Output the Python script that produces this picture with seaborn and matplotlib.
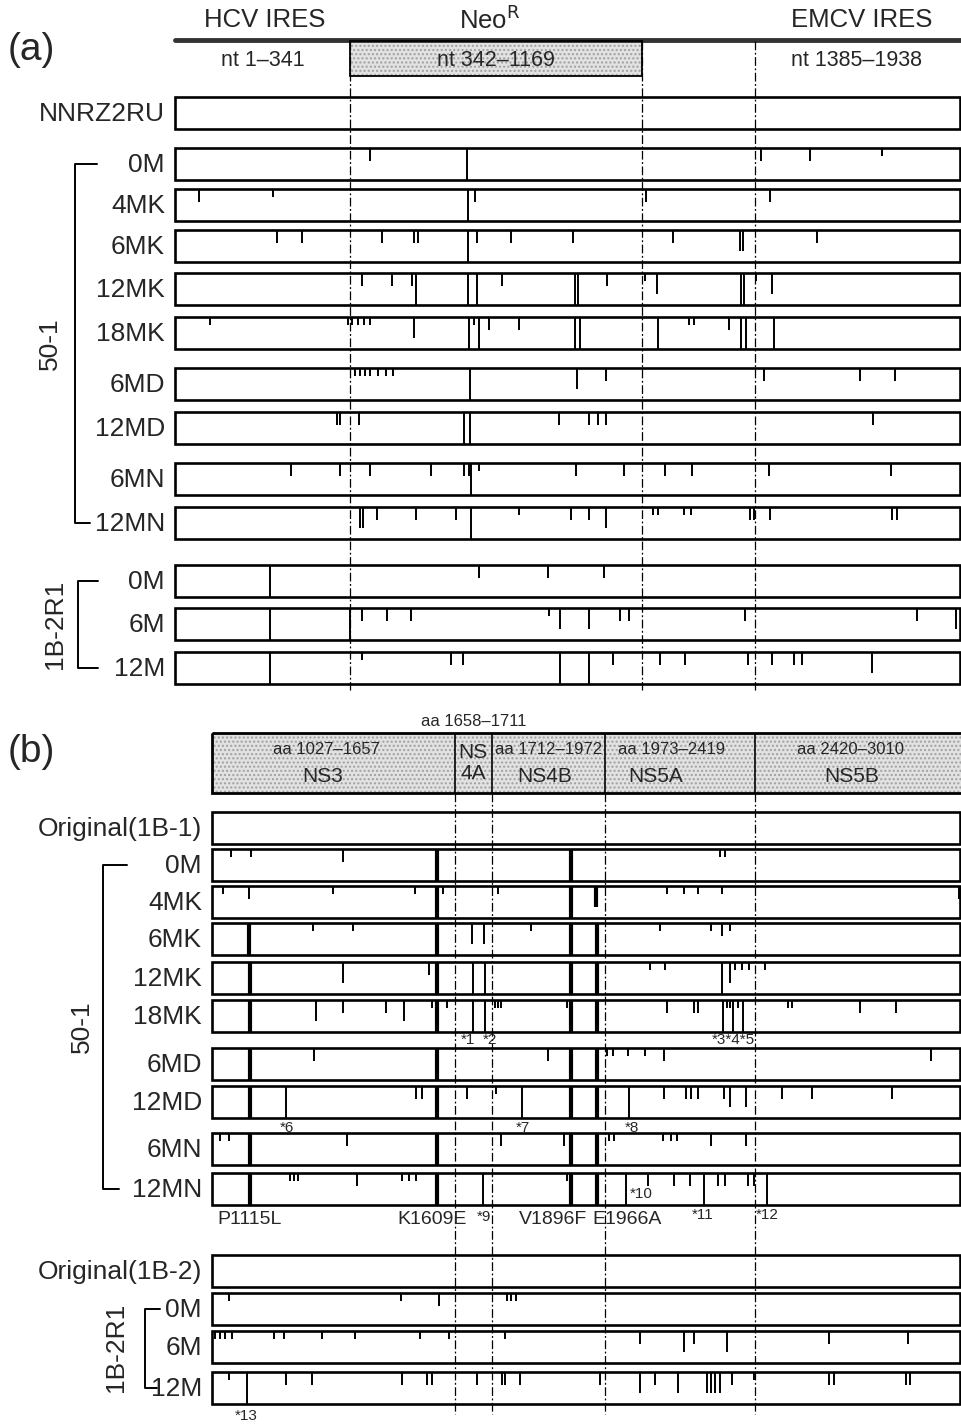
import matplotlib.pyplot as plt
import pandas as pd
import seaborn as sns
from matplotlib.patches import Rectangle


# mutation sites are (map position, tick class); the map is schematic, not to scale
# tick classes: s short, m medium, l long, f full line, F thick full line, L thick long

# ---- panel (a): replicon RNA, nt ----
A_REGIONS = ["HCV IRES", "Neo$^{\\mathrm{R}}$", "EMCV IRES"]
A_RANGES = ["nt 1\u2013341", "nt 342\u20131169", "nt 1385\u20131938"]
A_ROWS = ["NNRZ2RU", "0M", "4MK", "6MK", "12MK", "18MK", "6MD", "12MD",
          "6MN", "12MN", "0M", "6M", "12M"]

A_NNRZ2RU = []
A_50_0M = [(370, "m"), (467, "f"), (761, "m"), (810, "m"), (882, "s")]
A_50_4MK = [(199, "m"), (273, "s"), (468, "f"), (475, "m"), (646, "m"), (770, "m")]
A_50_6MK = [(277, "m"), (302, "m"), (382, "m"), (414, "m"), (418, "m"), (468, "f"),
            (477, "m"), (511, "m"), (573, "m"), (673, "m"), (740, "l"), (743, "l"),
            (817, "m")]
A_50_12MK = [(362, "m"), (392, "m"), (412, "m"), (416, "f"), (468, "f"), (477, "f"),
             (502, "m"), (575, "f"), (578, "f"), (607, "m"), (645, "s"), (657, "l"),
             (741, "f"), (744, "f"), (756, "s"), (772, "l")]
A_50_18MK = [(210, "s"), (348, "s"), (352, "s"), (358, "s"), (364, "s"), (370, "s"),
             (414, "l"), (469, "f"), (474, "s"), (479, "f"), (489, "m"), (519, "m"),
             (575, "f"), (580, "f"), (658, "f"), (689, "s"), (694, "s"), (729, "m"),
             (741, "f"), (746, "f"), (774, "f")]
A_50_6MD = [(355, "s"), (360, "s"), (365, "s"), (370, "s"), (378, "s"), (386, "s"),
            (393, "s"), (470, "f"), (577, "l"), (606, "m"), (764, "m"), (860, "m"),
            (895, "m")]
A_50_12MD = [(337, "m"), (340, "m"), (359, "m"), (464, "f"), (470, "f"), (559, "m"),
             (589, "m"), (598, "m"), (606, "m"), (873, "m")]
A_50_6MN = [(291, "m"), (340, "m"), (370, "m"), (431, "m"), (464, "m"), (469, "m"),
            (471, "f"), (479, "s"), (576, "m"), (624, "m"), (665, "m"), (692, "m"),
            (769, "m"), (891, "m")]
A_50_12MN = [(360, "l"), (363, "l"), (377, "m"), (416, "m"), (456, "m"), (471, "f"),
             (519, "s"), (571, "m"), (589, "m"), (606, "l"), (653, "s"), (658, "s"),
             (684, "s"), (691, "s"), (750, "m"), (754, "m"), (770, "m"), (892, "m"),
             (897, "m")]
A_R1_0M = [(270, "f"), (479, "m"), (548, "m"), (604, "m")]
A_R1_6M = [(270, "f"), (350, "f"), (362, "m"), (387, "m"), (411, "m"), (549, "s"),
           (560, "l"), (589, "l"), (620, "m"), (629, "m"), (745, "m"), (917, "m"),
           (956, "l")]
A_R1_12M = [(270, "f"), (362, "s"), (451, "m"), (463, "m"), (560, "f"), (589, "f"),
            (613, "m"), (660, "m"), (685, "m"), (748, "m"), (772, "m"), (794, "m"),
            (802, "m"), (872, "l")]

# ---- panel (b): NS3-NS5B, aa ----
B_PROTEINS = ["NS3", "NS\n4A", "NS4B", "NS5A", "NS5B"]
B_RANGES = ["aa 1027\u20131657", "", "aa 1712\u20131972", "aa 1973\u20132419", "aa 2420\u20133010"]
B_NS4A_RANGE = "aa 1658\u20131711"
B_ROWS = ["Original(1B-1)", "0M", "4MK", "6MK", "12MK", "18MK", "6MD", "12MD",
          "6MN", "12MN", "Original(1B-2)", "0M", "6M", "12M"]

B_1B1 = []
B_50_0M = [(231, "s"), (251, "s"), (343, "m"), (437, "F"), (571, "F"), (720, "s"),
           (725, "s")]
B_50_4MK = [(223, "s"), (249, "m"), (333, "s"), (415, "s"), (437, "F"), (443, "s"),
            (498, "s"), (571, "F"), (596, "L"), (667, "s"), (684, "s"), (698, "s"),
            (722, "s"), (959, "m")]
B_50_6MK = [(249, "F"), (313, "s"), (353, "s"), (437, "F"), (472, "l"), (484, "l"),
            (531, "s"), (571, "F"), (597, "F"), (660, "s"), (711, "s"), (722, "m"),
            (730, "s")]
B_50_12MK = [(250, "F"), (343, "l"), (429, "m"), (437, "F"), (473, "f"), (485, "f"),
             (571, "F"), (597, "F"), (650, "s"), (665, "s"), (722, "f"), (730, "l"),
             (735, "s"), (742, "s"), (749, "s"), (765, "s")]
B_50_18MK = [(250, "F"), (316, "l"), (343, "m"), (386, "m"), (404, "l"), (432, "s"),
             (437, "F"), (447, "s"), (473, "f"), (485, "f"), (495, "s"), (498, "s"),
             (501, "s"), (567, "s"), (571, "F"), (597, "F"), (667, "m"), (694, "m"),
             (698, "m"), (723, "f"), (727, "s"), (730, "s"), (733, "f"), (738, "s"),
             (743, "f"), (788, "s"), (792, "s"), (860, "m"), (896, "m")]
B_50_6MD = [(250, "F"), (314, "m"), (437, "F"), (548, "m"), (571, "F"), (597, "F"),
            (607, "s"), (613, "s"), (628, "s"), (645, "s"), (664, "m"), (931, "m")]
B_50_12MD = [(250, "F"), (286, "f"), (416, "m"), (422, "m"), (437, "F"), (467, "m"),
             (496, "s"), (522, "f"), (571, "F"), (597, "F"), (629, "f"), (664, "m"),
             (686, "m"), (691, "m"), (698, "m"), (724, "m"), (730, "l"), (746, "l"),
             (782, "m"), (812, "m"), (892, "m")]
B_50_6MN = [(220, "s"), (229, "s"), (250, "F"), (347, "m"), (437, "F"), (501, "m"),
            (564, "m"), (571, "F"), (597, "F"), (609, "s"), (614, "s"), (663, "s"),
            (671, "s"), (677, "s"), (711, "m"), (746, "m")]
B_50_12MN = [(250, "F"), (290, "s"), (294, "s"), (298, "s"), (357, "m"), (402, "s"),
             (409, "s"), (416, "s"), (437, "F"), (483, "f"), (567, "s"), (571, "F"),
             (597, "F"), (626, "f"), (648, "m"), (674, "m"), (690, "m"), (704, "f"),
             (718, "m"), (725, "m"), (748, "m"), (754, "m"), (767, "f")]
B_1B2 = []
B_R1_0M = [(229, "s"), (401, "s"), (439, "m"), (507, "s"), (511, "s"), (516, "s")]
B_R1_6M = [(215, "s"), (220, "s"), (225, "s"), (232, "s"), (274, "s"), (284, "s"),
           (322, "s"), (355, "s"), (420, "s"), (449, "s"), (505, "s"), (640, "m"),
           (684, "l"), (694, "m"), (727, "l"), (829, "m"), (908, "m")]
B_R1_12M = [(229, "s"), (247, "f"), (286, "m"), (312, "m"), (402, "m"), (427, "m"),
            (432, "m"), (477, "m"), (502, "m"), (505, "m"), (520, "m"), (600, "m"),
            (640, "l"), (655, "m"), (678, "l"), (707, "l"), (711, "l"), (715, "l"),
            (720, "l"), (732, "m"), (754, "s"), (829, "m"), (834, "m"), (906, "m"),
            (910, "m")]

# named substitutions under 50-1 12MN, and footnote marks
B_SUBST = ["P1115L", "K1609E", "V1896F", "E1966A"]
B_SUBST_POS = [250, 432, 553, 627]

# ---- layout (reference pixel grid) ----
W, H = 962, 1424
A_X0, A_X1 = 175, 960
A_DIV = [350, 642, 755]
A_TOPS = [97, 148, 189, 230, 273, 317, 368, 412, 463, 507, 565, 608, 652]
B_X0, B_X1 = 212, 960
B_DIV = [455, 492, 605, 755]
B_TOPS = [812, 849, 886, 923, 962, 1000, 1048, 1086, 1133, 1173, 1255, 1293, 1331, 1372]
B_RANGE_X = [326, 473, 549, 672, 851]
B_PROT_X = [323, 473, 545, 656, 852]
ROW_H = 32

FRAC = {"s": 0.25, "m": 0.42, "l": 0.65, "L": 0.65, "f": 1.0, "F": 1.0}
DASH = (0, (7, 2, 1.5, 2))


def to_frame(rows, tops, site_lists):
    recs = []
    for name, top, sites in zip(rows, tops, site_lists):
        for pos, kind in sites:
            recs.append({"row": name, "top": top, "pos": pos, "kind": kind})
    return pd.DataFrame(recs)


def draw_rows(ax, df, tops, x0, x1, thin_lw, thick_lw):
    for top in tops:
        ax.add_patch(Rectangle((x0, top), x1 - x0, ROW_H, fill=False, lw=1.9,
                               ec="black", zorder=3))
    for kind, grp in df.groupby("kind"):
        lw = thick_lw if kind.isupper() else thin_lw
        ax.vlines(grp["pos"], grp["top"], grp["top"] + FRAC[kind] * ROW_H,
                  color="black", lw=lw, zorder=4)


def bracket(ax, x, y0, y1, top_len, bot_len):
    ax.plot([x + top_len, x, x, x + bot_len], [y0, y0, y1, y1], color="black", lw=1.4)


sns.set_theme(style="white")
plt.rcParams["font.family"] = ["Liberation Sans", "DejaVu Sans"]

fig = plt.figure(figsize=(W / 100, H / 100), dpi=100)
ax = fig.add_axes([0, 0, 1, 1])
ax.set_xlim(0, W)
ax.set_ylim(H, 0)
sns.despine(ax=ax, left=True, bottom=True)
ax.set_xticks([])
ax.set_yticks([])

# ---------------- panel (a) ----------------
ax.text(8, 50, "(a)", fontsize=28, va="center", ha="left")
for cx, name in zip([265, 490, 862], A_REGIONS):
    ax.text(cx, 20, name, fontsize=18.5, ha="center", va="center")
ax.plot([A_X0, W], [40, 40], color="#333333", lw=3.5)
ax.add_patch(Rectangle((A_DIV[0], 41), A_DIV[1] - A_DIV[0], 35, fc="#e2e2e2",
                       ec="#a0a0a0", hatch="....", lw=0, zorder=1))
ax.add_patch(Rectangle((A_DIV[0], 41), A_DIV[1] - A_DIV[0], 35, fill=False,
                       ec="black", lw=1.3, zorder=2))
for cx, rng in zip([263, 496, 857], A_RANGES):
    ax.text(cx, 61, rng, fontsize=15.5, ha="center", va="center")
ax.vlines(A_DIV, 41, 690, colors="black", lw=0.9, linestyles=[DASH], zorder=2)

a_sites = [A_NNRZ2RU, A_50_0M, A_50_4MK, A_50_6MK, A_50_12MK, A_50_18MK, A_50_6MD,
           A_50_12MD, A_50_6MN, A_50_12MN, A_R1_0M, A_R1_6M, A_R1_12M]
df_a = to_frame(A_ROWS, A_TOPS, a_sites)
draw_rows(ax, df_a, A_TOPS, A_X0, A_X1, 1.4, 1.4)
for name, top in zip(A_ROWS, A_TOPS):
    ax.text(A_X0 - 10, top + ROW_H / 2 + 1, name, fontsize=19, ha="right", va="center")

a_mid = [t + ROW_H / 2 for t in A_TOPS]
bracket(ax, 75, a_mid[1], a_mid[9], 22, 15)
ax.text(50, (a_mid[1] + a_mid[9]) / 2, "50-1", fontsize=19, rotation=90,
        ha="center", va="center")
bracket(ax, 78, a_mid[10], a_mid[12], 20, 20)
ax.text(55, a_mid[11], "1B-2R1", fontsize=19, rotation=90, ha="center", va="center")

# ---------------- panel (b) ----------------
ax.text(8, 752, "(b)", fontsize=28, va="center", ha="left")
ax.text((B_DIV[0] + B_DIV[1]) / 2, 722, B_NS4A_RANGE, fontsize=12, ha="center",
        va="center")
ax.add_patch(Rectangle((B_X0, 733), W - B_X0, 60, fc="#e2e2e2", ec="#a0a0a0",
                       hatch="....", lw=0, zorder=1))
ax.add_patch(Rectangle((B_X0, 733), W - B_X0 + 5, 60, fill=False, ec="black",
                       lw=2, zorder=2))
ax.vlines(B_DIV, 733, 793, colors="black", lw=1.2, zorder=2)
for i, (prot, rng) in enumerate(zip(B_PROTEINS, B_RANGES)):
    if "\n" in prot:
        ax.text(B_PROT_X[i], 763, prot, fontsize=15, ha="center", va="center",
                linespacing=1.1)
        continue
    ax.text(B_RANGE_X[i], 750, rng, fontsize=12, ha="center", va="center")
    ax.text(B_PROT_X[i], 777, prot, fontsize=15, ha="center", va="center")
ax.vlines(B_DIV, 793, 1414, colors="black", lw=0.9, linestyles=[DASH], zorder=2)

b_sites = [B_1B1, B_50_0M, B_50_4MK, B_50_6MK, B_50_12MK, B_50_18MK, B_50_6MD,
           B_50_12MD, B_50_6MN, B_50_12MN, B_1B2, B_R1_0M, B_R1_6M, B_R1_12M]
df_b = to_frame(B_ROWS, B_TOPS, b_sites)
draw_rows(ax, df_b, B_TOPS, B_X0, B_X1, 1.4, 3.0)
for name, top in zip(B_ROWS, B_TOPS):
    ax.text(B_X0 - 10, top + ROW_H / 2 + 1, name, fontsize=19, ha="right", va="center")

b_mid = [t + ROW_H / 2 for t in B_TOPS]
bracket(ax, 103, b_mid[1], b_mid[9], 24, 16)
ax.text(82, (b_mid[1] + b_mid[9]) / 2, "50-1", fontsize=19, rotation=90,
        ha="center", va="center")
bracket(ax, 145, b_mid[11], b_mid[13], 15, 12)
ax.text(116, b_mid[12], "1B-2R1", fontsize=19, rotation=90, ha="center", va="center")

# footnote marks
for x, y, s in [(468, 1040, "*1"), (490, 1040, "*2"), (733, 1040, "*3*4*5"),
                (287, 1128, "*6"), (523, 1128, "*7"), (632, 1128, "*8"),
                (641, 1194, "*10"), (484, 1217, "*9"), (703, 1215, "*11"),
                (767, 1215, "*12"), (246, 1416, "*13")]:
    ax.text(x, y, s, fontsize=11, ha="center", va="center")
for x, s in zip(B_SUBST_POS, B_SUBST):
    ax.text(x, 1220, s, fontsize=14, ha="center", va="center")

fig.savefig("out.png", dpi=100, facecolor="white")
